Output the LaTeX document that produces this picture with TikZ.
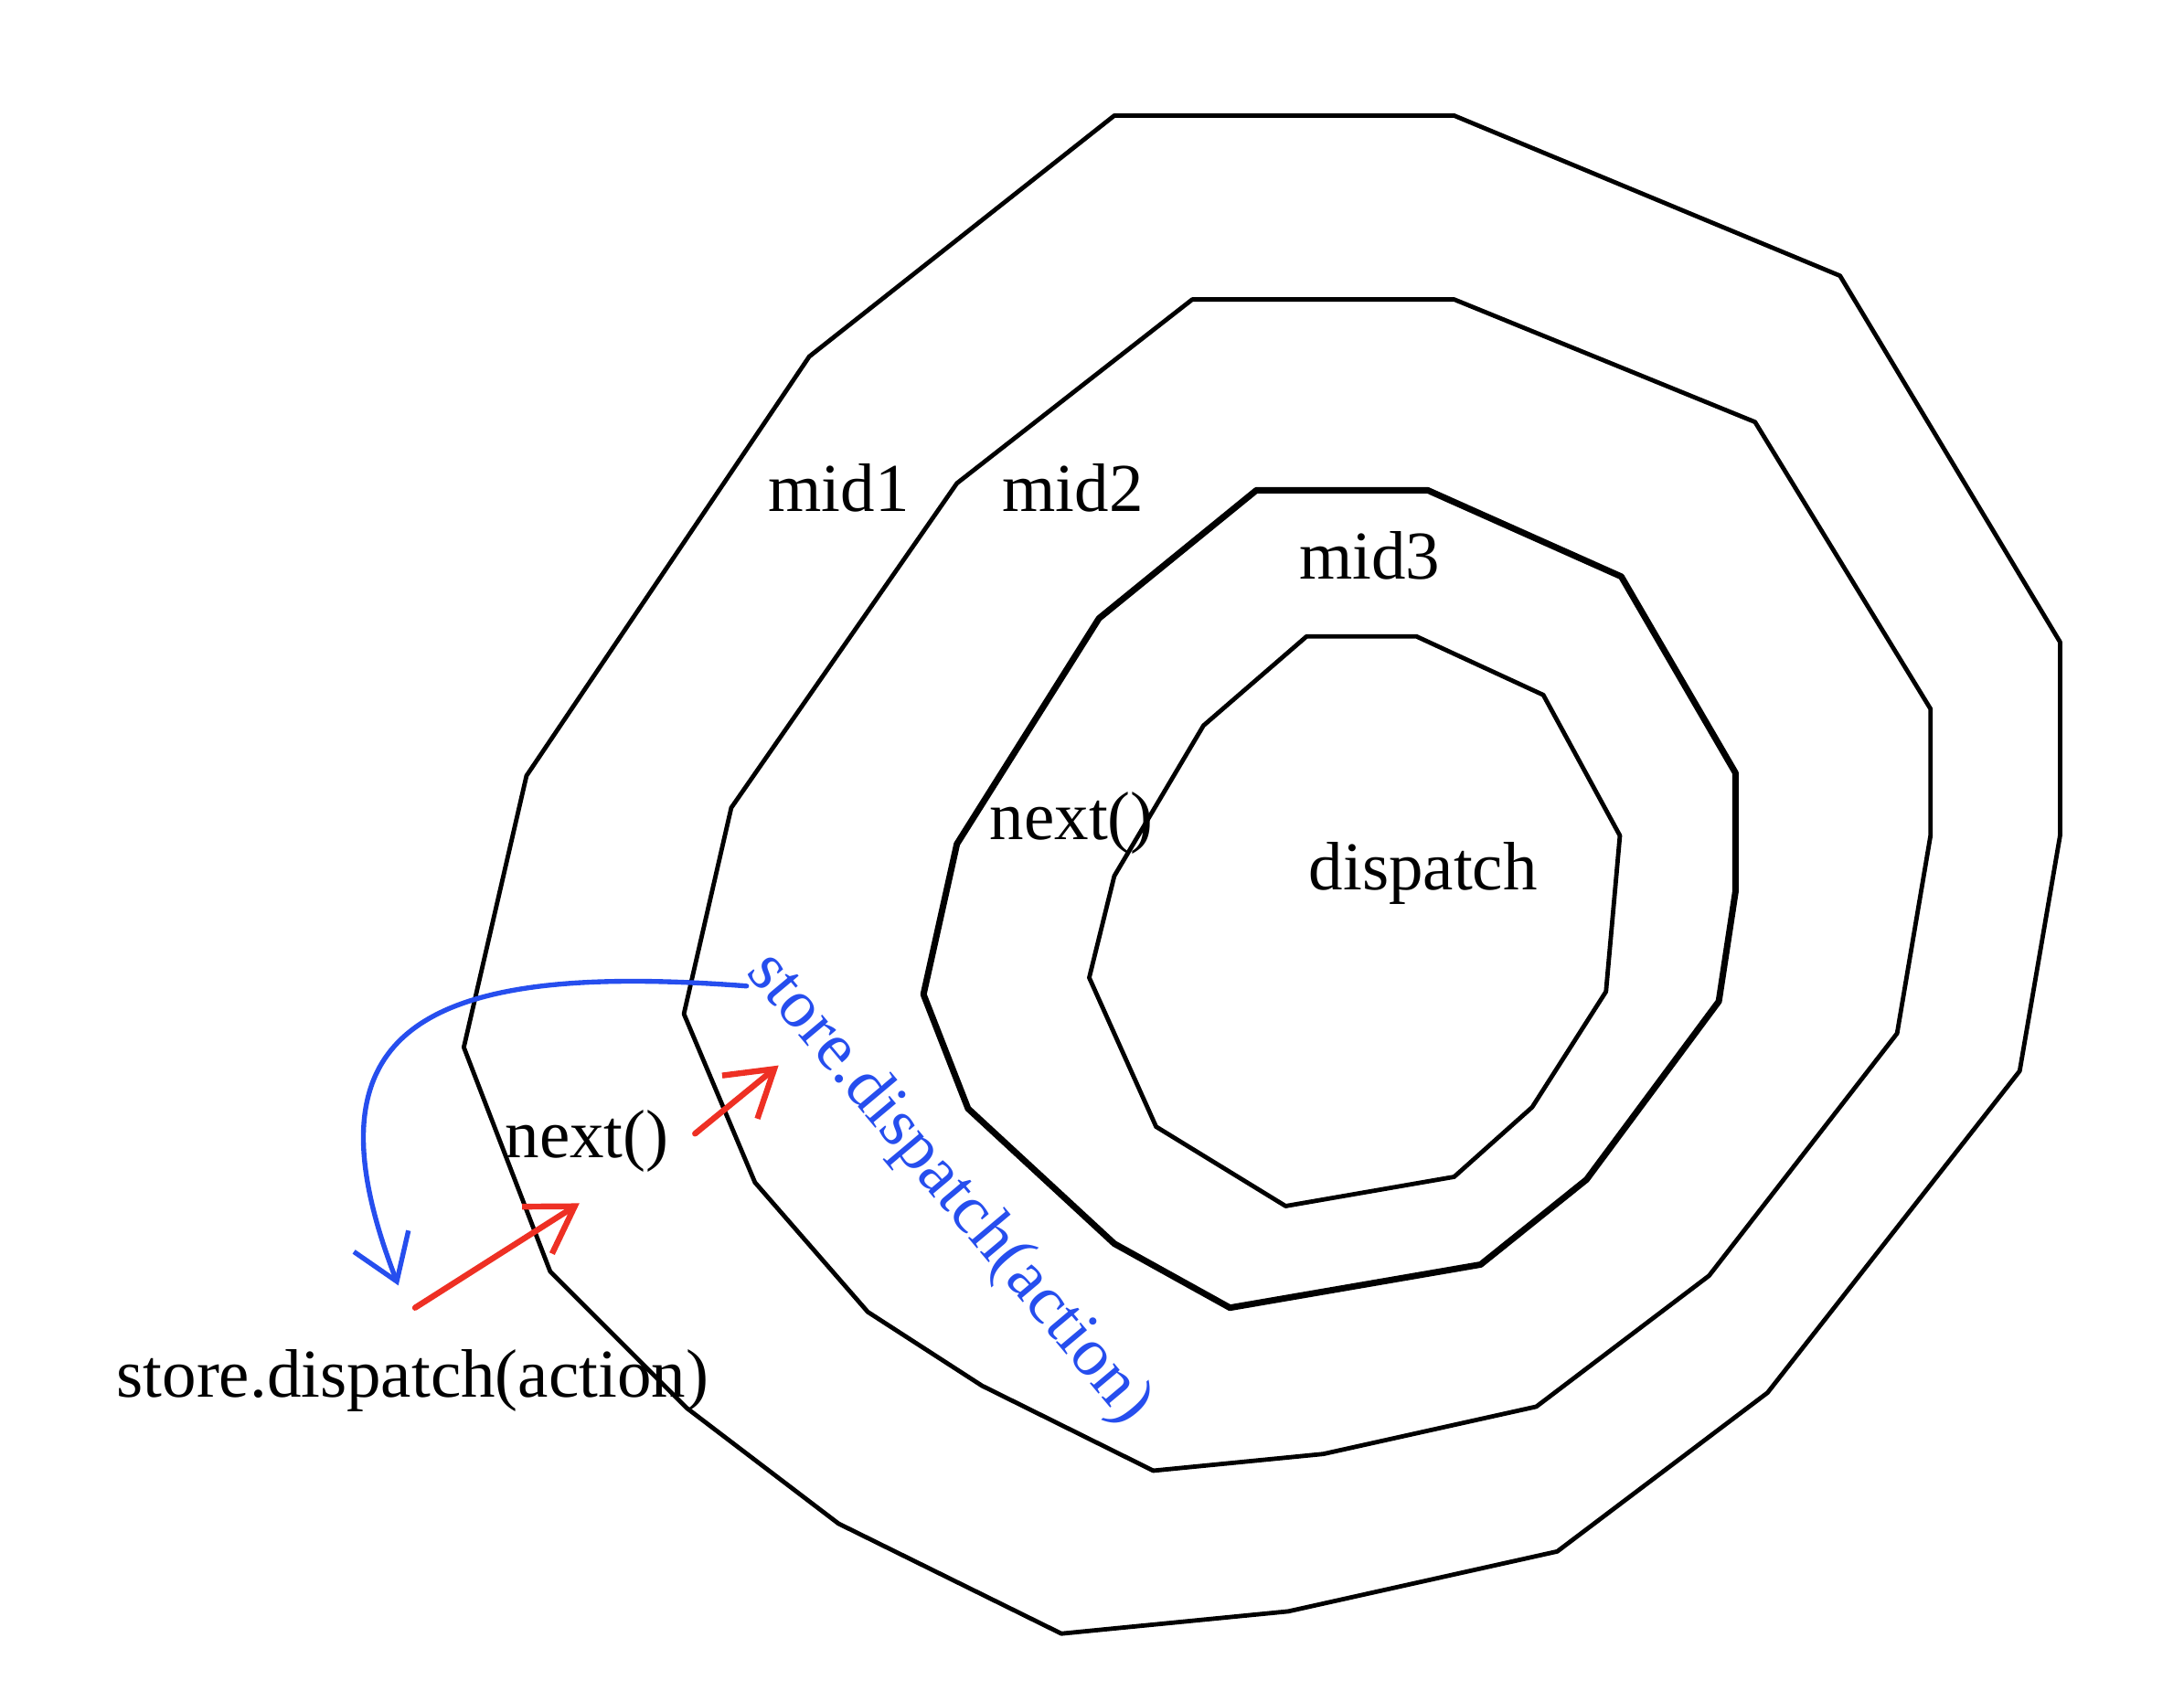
\documentclass[tikz,border=0pt]{standalone}
\usepackage{fontspec}
\setmainfont{Liberation Serif}
\usepackage{tikz}
\usepackage{xcolor}
\usetikzlibrary{arrows.meta}
\definecolor{inkblue}{RGB}{38,78,238}
\definecolor{inkred}{RGB}{238,48,36}

\begin{document}
\begin{tikzpicture}[
  ring/.style={draw=black,line width=0.9pt,line join=round},
  lbl/.style={inner sep=0pt,anchor=base west,font=\fontsize{14}{16}\selectfont},
  redarrow/.style={draw=inkred,line width=1.2pt,line cap=round,-{Straight Barb[length=3.2mm,width=4mm]}},
  bluearrow/.style={draw=inkblue,line width=1pt,line cap=round,-{Straight Barb[length=3.1mm,width=4.2mm]}}]
\useasboundingbox (0,0) rectangle (15.68,-12.14);
% onion rings, outside to inside
\draw[ring] (8.00,-0.83) -- (10.44,-0.83) -- (13.21,-1.98) -- (14.79,-4.61) -- (14.79,-6.00) -- (14.50,-7.69) -- (12.69,-10.00) -- (11.18,-11.14) -- (9.25,-11.57) -- (7.62,-11.73) -- (6.02,-10.94) -- (4.93,-10.11) -- (3.95,-9.13) -- (3.33,-7.52) -- (3.78,-5.57) -- (5.81,-2.56) -- cycle;
\draw[ring] (8.56,-2.15) -- (10.44,-2.15) -- (12.60,-3.03) -- (13.86,-5.09) -- (13.86,-6.00) -- (13.62,-7.42) -- (12.27,-9.16) -- (11.03,-10.10) -- (9.50,-10.44) -- (8.28,-10.56) -- (7.05,-9.95) -- (6.23,-9.42) -- (5.42,-8.49) -- (4.91,-7.28) -- (5.25,-5.80) -- (6.87,-3.47) -- cycle;
\draw[ring,line width=1.3pt] (9.02,-3.52) -- (10.25,-3.52) -- (11.64,-4.14) -- (12.46,-5.55) -- (12.46,-6.40) -- (12.34,-7.19) -- (11.39,-8.47) -- (10.63,-9.08) -- (8.83,-9.39) -- (8.00,-8.93) -- (6.95,-7.96) -- (6.63,-7.14) -- (6.87,-6.06) -- (7.89,-4.44) -- cycle;
\draw[ring] (9.38,-4.57) -- (10.17,-4.57) -- (11.08,-4.99) -- (11.63,-6.00) -- (11.53,-7.12) -- (11.00,-7.95) -- (10.44,-8.45) -- (9.23,-8.66) -- (8.30,-8.09) -- (7.82,-7.02) -- (8.00,-6.29) -- (8.64,-5.21) -- cycle;

\node[lbl] (midA) at (5.51,-3.67) {mid1};
\node[lbl] (midB) at (7.19,-3.67) {mid2};
\node[lbl] (midC) at (9.32,-4.16) {mid3};
\node[lbl] (nextin) at (7.10,-6.03) {next()};
\node[lbl] (core) at (9.39,-6.39) {dispatch};
\node[lbl] (nextout) at (3.62,-8.31) {next()};
\node[lbl] (call) at (0.83,-10.03) {store.dispatch(action)};
\node[lbl,text=inkblue,rotate=-50] (callback) at (5.35,-6.98) {store.dispatch(action)};

\coordinate (redA1) at (2.98,-9.39);
\coordinate (redA2) at (4.16,-8.64);
\coordinate (redB1) at (4.99,-8.14);
\coordinate (redB2) at (5.59,-7.65);
\coordinate (blue1) at (5.36,-7.08);
\coordinate (blue2) at (2.86,-9.23);

\draw[redarrow] (redA1) -- (redA2);
\draw[redarrow] (redB1) -- (redB2);
\draw[bluearrow] (blue1) .. controls (3.00,-6.90) and (2.15,-7.40) .. (blue2);
\end{tikzpicture}
\end{document}
